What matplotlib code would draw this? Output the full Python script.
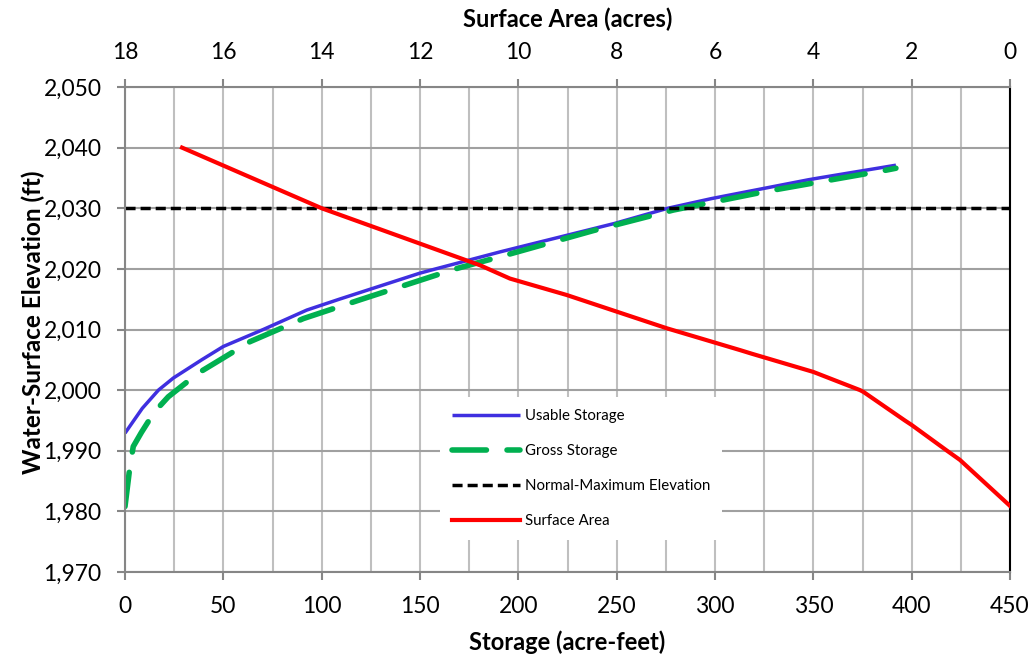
import matplotlib
matplotlib.use("Agg")
import matplotlib.pyplot as plt
from matplotlib.ticker import MultipleLocator, FuncFormatter

plt.rcParams['font.family'] = ['Lato', 'DejaVu Sans']

# ---- data ----
usable_storage = [0, 4.5, 8.8, 17, 24.6, 39, 50, 70.3, 92.4, 109, 150, 158, 190.7, 218, 249, 276, 298.3, 347.5, 352.9, 392]
usable_elev = [1992.9, 1995, 1997, 2000, 2002, 2005, 2007.2, 2010, 2013.2, 2015, 2019.3, 2020, 2022.8, 2025, 2027.5, 2030, 2031.6, 2034.7, 2035, 2037.1]

gross_storage = [0, 1.6, 2.5, 4.2, 8.3, 12.2, 14.4, 22, 26.3, 37.2, 48.4, 63.6, 77.9, 90.7, 119.5, 168, 190.7, 223.7, 238, 278.8, 283.4, 326.3, 364.6, 387.3, 392]
gross_elev = [1980.8, 1985, 1987.4, 1990.7, 1993, 1995, 1996.2, 1998.9, 2000, 2002.8, 2005, 2008, 2010, 2011.8, 2014.9, 2020, 2022, 2025, 2026.3, 2029.7, 2030, 2032.8, 2035, 2036.3, 2036.6]

area_acres = [0.0, 0.55, 1.02, 1.28, 2.0, 2.14, 2.98, 3.05, 4.0, 5.25, 5.49, 6.98, 8.0, 9.02, 10.17, 10.78, 14.0, 16.84]
area_elev = [1980.9, 1985, 1988.5, 1990, 1994.25, 1995, 1999.7, 2000, 2003, 2006, 2006.6, 2010.2, 2012.95, 2015.7, 2018.4, 2020.6, 2030, 2040]

normal_max_elev = 2030
storage_range = [0, 450]

storage_ticks = [0, 50, 100, 150, 200, 250, 300, 350, 400, 450]
elev_ticks = [1970, 1980, 1990, 2000, 2010, 2020, 2030, 2040, 2050]
area_ticks = [18, 16, 14, 12, 10, 8, 6, 4, 2, 0]

labels = ["Usable Storage", "Gross Storage", "Normal-Maximum Elevation", "Surface Area"]

# ---- figure ----
fig = plt.figure(figsize=(10.32, 6.58), dpi=100)
ax = fig.add_axes([125/1032, 1-572/658, 885/1032, 485/658])
ax.set_xlim(0, 450)
ax.set_ylim(1970, 2050)

grid_v = '#BFBFBF'
grid_h = '#A0A0A0'
spine_c = '#868686'

ax.set_xticks(storage_ticks)
ax.xaxis.set_minor_locator(MultipleLocator(25))
ax.set_yticks(elev_ticks)
ax.yaxis.set_major_formatter(FuncFormatter(lambda v, p: f"{v:,.0f}"))
ax.grid(True, which='both', axis='x', color=grid_v, lw=1.5)
ax.grid(True, which='major', axis='y', color=grid_h, lw=1.5)
ax.set_axisbelow(True)
ax.tick_params(axis='both', which='major', direction='out', length=6, width=1.5,
               color=spine_c, labelsize=16.5, pad=11)
ax.tick_params(axis='x', which='minor', length=0)
for s in ['left', 'bottom', 'top']:
    ax.spines[s].set_color(spine_c)
    ax.spines[s].set_linewidth(1.5)
ax.spines['right'].set_color('black')
ax.spines['right'].set_linewidth(1.5)

l1, = ax.plot(usable_storage, usable_elev, color='#3F2FE0', lw=2.5, solid_capstyle='butt')
l2, = ax.plot(gross_storage, gross_elev, color='#00B050', lw=4,
              linestyle=(0, (6.2, 3.7)), dash_capstyle='round')
l3, = ax.plot(storage_range, [normal_max_elev, normal_max_elev], color='black', lw=2.5,
              linestyle=(0, (2.9, 1.45)))

ax.set_xlabel("Storage (acre-feet)", fontsize=17, fontweight='bold')
ax.xaxis.set_label_coords(0.5, -(642-572)/485)
ax.xaxis.label.set_va('center')
ax.set_ylabel("Water-Surface Elevation (ft)", fontsize=17.5, fontweight='bold')
ax.yaxis.set_label_coords(-(125-33)/885, (572-322)/485)
ax.yaxis.label.set_va('center')

ax2 = ax.twiny()
ax2.set_xlim(18, 0)
ax2.set_xticks(area_ticks)
ax2.tick_params(axis='x', direction='out', length=6, width=1.5, color=spine_c,
                labelsize=16.5, pad=11)
for s in ax2.spines.values():
    s.set_visible(False)
l4, = ax2.plot(area_acres, area_elev, color='#FF0000', lw=3)
ax2.set_xlabel("Surface Area (acres)", fontsize=17, fontweight='bold')
ax2.xaxis.set_label_coords(0.5, (572-19)/485)
ax2.xaxis.label.set_va('center')

leg = ax2.legend([l1, l2, l3, l4], labels, loc='upper left',
                 bbox_to_anchor=((440-125)/885, (572-397)/485), borderaxespad=0,
                 frameon=True, fancybox=False, framealpha=1, edgecolor='none',
                 fontsize=10.8, handlelength=4.5, handletextpad=0.35,
                 labelspacing=1.4, borderpad=0.8)
leg.get_frame().set_facecolor('white')

fig.savefig("out.png", dpi=100)
